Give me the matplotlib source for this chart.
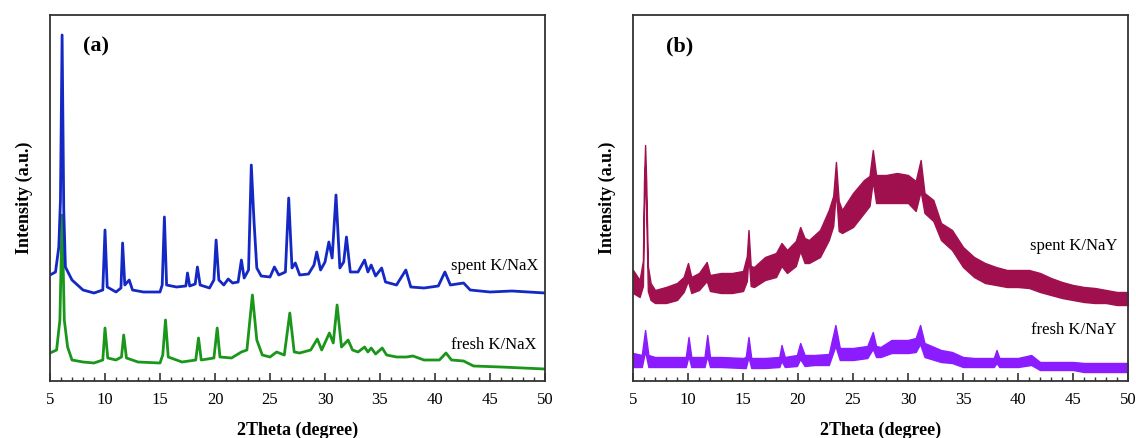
import numpy as np
import matplotlib.pyplot as plt
from matplotlib.ticker import MultipleLocator

plt.rcParams['font.family'] = ['Liberation Serif', 'DejaVu Serif']

# ---- panel (a): K/NaX, single traces (2theta, intensity a.u.)
spent_x_tt = [5.0, 5.5, 5.8, 5.95, 6.1, 6.25, 6.4, 7.0, 8.0, 9.0, 9.8, 10.0, 10.2,
              11.0, 11.45, 11.6, 11.8, 12.2, 12.5, 13.5, 15.0, 15.2, 15.4, 15.6,
              16.5, 17.35, 17.5, 17.7, 18.2, 18.4, 18.65, 19.5, 19.9, 20.1, 20.35,
              20.8, 21.2, 21.6, 22.1, 22.4, 22.65, 23.05, 23.3, 23.55, 23.8, 24.2,
              25.0, 25.4, 25.8, 26.4, 26.7, 27.0, 27.3, 27.7, 28.5, 29.0, 29.25,
              29.6, 30.0, 30.35, 30.65, 31.0, 31.35, 31.7, 31.95, 32.3, 33.0, 33.6,
              33.9, 34.2, 34.6, 35.15, 35.5, 36.5, 37.35, 37.8, 39.0, 40.3, 40.9,
              41.4, 42.6, 43.2, 45.0, 47.0, 50.0]
spent_x_int = [106, 109, 134, 181, 346, 171, 114, 101, 91, 88, 91, 151, 94,
               89, 93, 138, 96, 101, 91, 89, 89, 96, 164, 96,
               94, 95, 108, 95, 97, 114, 96, 93, 101, 141, 101,
               96, 102, 98, 99, 121, 103, 111, 216, 159, 113, 105,
               104, 114, 106, 109, 183, 113, 118, 106, 107, 116, 129,
               111, 119, 139, 123, 186, 113, 119, 144, 109, 109, 121,
               109, 116, 105, 113, 99, 96, 111, 94, 93, 95, 109,
               96, 98, 91, 89, 90, 88]

fresh_x_tt = [5.0, 5.6, 5.9, 6.1, 6.3, 6.6, 7.0, 8.0, 9.0, 9.8, 10.0, 10.25, 11.0,
              11.5, 11.7, 11.95, 13.0, 15.0, 15.25, 15.5, 15.75, 17.0, 18.25, 18.5,
              18.75, 19.9, 20.2, 20.45, 21.5, 22.4, 22.9, 23.4, 23.8, 24.3, 25.0,
              25.6, 26.3, 26.8, 27.2, 27.7, 28.7, 29.3, 29.7, 30.4, 30.75, 31.1,
              31.5, 32.1, 32.5, 33.0, 33.6, 33.9, 34.2, 34.6, 35.2, 35.6, 36.5,
              37.4, 38.0, 39.0, 40.4, 41.0, 41.5, 42.6, 43.5, 46.0, 50.0]
fresh_x_int = [28, 31, 61, 166, 61, 34, 21, 19, 18, 21, 53, 23, 21,
               24, 46, 23, 19, 18, 26, 61, 24, 19, 21, 43,
               21, 23, 53, 24, 23, 29, 31, 86, 41, 26, 24,
               29, 26, 68, 29, 28, 31, 42, 31, 48, 38, 76,
               34, 41, 31, 29, 34, 29, 33, 27, 33, 26, 24,
               24, 25, 21, 21, 28, 21, 20, 15, 14, 12]

# ---- panel (b): K/NaY, noisy traces given as lower / upper envelope
spent_y_tt = [5.0, 5.6, 5.9, 6.0, 6.1, 6.2, 6.35, 6.6, 7.0, 8.0, 9.0, 9.6, 10.0,
              10.3, 11.0, 11.7, 12.0, 13.0, 14.0, 15.0, 15.35, 15.5, 15.7, 16.0,
              17.0, 18.0, 18.5, 19.0, 19.8, 20.2, 20.6, 21.0, 22.0, 22.8, 23.2,
              23.45, 23.7, 24.0, 25.0, 26.0, 26.5, 26.8, 27.1, 28.0, 29.0, 30.0,
              30.7, 31.15, 31.5, 32.3, 33.0, 34.0, 35.0, 36.0, 37.0, 38.0, 39.0,
              40.0, 41.0, 42.0, 43.0, 44.0, 45.0, 46.0, 47.0, 48.0, 49.0, 50.0]
spent_y_hi = [111, 101, 120, 200, 236, 200, 115, 98, 91, 94, 98, 104, 118,
              104, 108, 119, 106, 108, 108, 110, 125, 151, 115, 114,
              124, 128, 138, 131, 140, 154, 143, 141, 151, 171, 185,
              219, 180, 171, 188, 201, 205, 231, 206, 206, 208, 206,
              200, 221, 188, 181, 158, 151, 134, 124, 118, 114, 111,
              111, 111, 108, 103, 99, 96, 94, 93, 91, 89, 89]
spent_y_lo = [88, 84, 95, 170, 215, 170, 90, 81, 78, 78, 81, 89, 100,
              88, 91, 100, 90, 88, 88, 90, 100, 125, 95, 94,
              101, 104, 115, 108, 115, 130, 118, 118, 124, 141, 155,
              190, 150, 148, 154, 168, 175, 200, 178, 178, 178, 178,
              170, 190, 168, 160, 141, 131, 114, 104, 98, 96, 94,
              94, 93, 89, 86, 83, 81, 79, 78, 78, 76, 76]

fresh_y_tt = [5.0, 5.8, 6.1, 6.4, 7.0, 9.0, 9.8, 10.05, 10.3, 11.5, 11.75, 12.0,
              13.0, 15.0, 15.25, 15.5, 15.75, 17.0, 18.3, 18.5, 18.8, 19.9, 20.2,
              20.6, 21.5, 22.8, 23.4, 23.8, 24.0, 25.0, 26.3, 26.8, 27.1, 27.5,
              28.5, 30.0, 30.7, 31.1, 31.5, 33.0, 34.0, 35.0, 36.0, 37.8, 38.05,
              38.3, 40.0, 41.2, 42.0, 45.0, 46.0, 50.0]
fresh_y_hi = [28, 26, 51, 26, 24, 24, 24, 44, 24, 24, 46, 24,
              24, 23, 24, 44, 23, 23, 24, 36, 24, 26, 38,
              26, 26, 27, 56, 33, 33, 33, 35, 49, 35, 34,
              41, 41, 43, 56, 38, 31, 29, 24, 23, 23, 31,
              23, 23, 26, 19, 19, 18, 18]
fresh_y_lo = [14, 14, 30, 14, 14, 14, 14, 25, 14, 14, 25, 14,
              14, 13, 13, 24, 13, 13, 14, 20, 14, 15, 22,
              15, 16, 16, 35, 21, 21, 21, 23, 32, 24, 24,
              28, 28, 29, 37, 24, 19, 18, 14, 14, 14, 18,
              14, 14, 16, 11, 11, 9, 9]

fig = plt.figure(figsize=(11.36, 4.38), dpi=100)
ax_a = fig.add_axes([50 / 1136, 57 / 438, 495 / 1136, 366 / 438])
ax_b = fig.add_axes([633 / 1136, 57 / 438, 495 / 1136, 366 / 438])

ax_a.plot(fresh_x_tt, fresh_x_int, color='#1a961a', lw=2.0)
ax_a.plot(spent_x_tt, spent_x_int, color='#1428c4', lw=2.0)

ax_b.fill_between(spent_y_tt, spent_y_lo, spent_y_hi, color='#a0104f', lw=1.0,
                  edgecolor='#a0104f')
ax_b.fill_between(fresh_y_tt, fresh_y_lo, fresh_y_hi, color='#8a1cff', lw=1.0,
                  edgecolor='#8a1cff')

ax_a.text(0.066, 0.915, '(a)', transform=ax_a.transAxes, fontsize=16,
          fontweight='bold', va='center')
ax_b.text(0.066, 0.915, '(b)', transform=ax_b.transAxes, fontsize=16,
          fontweight='bold', va='center')
ax_a.text(49.4, 115, 'spent K/NaX', ha='right', va='center', fontsize=12)
ax_a.text(49.2, 36, 'fresh K/NaX', ha='right', va='center', fontsize=12)
ax_b.text(49.0, 135, 'spent K/NaY', ha='right', va='center', fontsize=12)
ax_b.text(49.0, 51, 'fresh K/NaY', ha='right', va='center', fontsize=12)

for ax in (ax_a, ax_b):
    ax.set_xlim(5, 50)
    ax.set_ylim(0, 366)
    ax.xaxis.set_major_locator(MultipleLocator(5))
    ax.xaxis.set_minor_locator(MultipleLocator(1))
    ax.tick_params(axis='x', which='major', direction='in', length=6, width=1.2,
                   labelsize=12, pad=8, color='#333333')
    ax.tick_params(axis='x', which='minor', direction='in', length=3, width=1.0,
                   color='#333333')
    ax.set_yticks([])
    for s in ax.spines.values():
        s.set_linewidth(1.3)
        s.set_color('#333333')
    ax.set_xlabel('2Theta (degree)', fontsize=13, fontweight='bold', labelpad=10)
    ax.set_ylabel('Intensity (a.u.)', fontsize=13, fontweight='bold', labelpad=12)

fig.savefig('out.png', dpi=100)
